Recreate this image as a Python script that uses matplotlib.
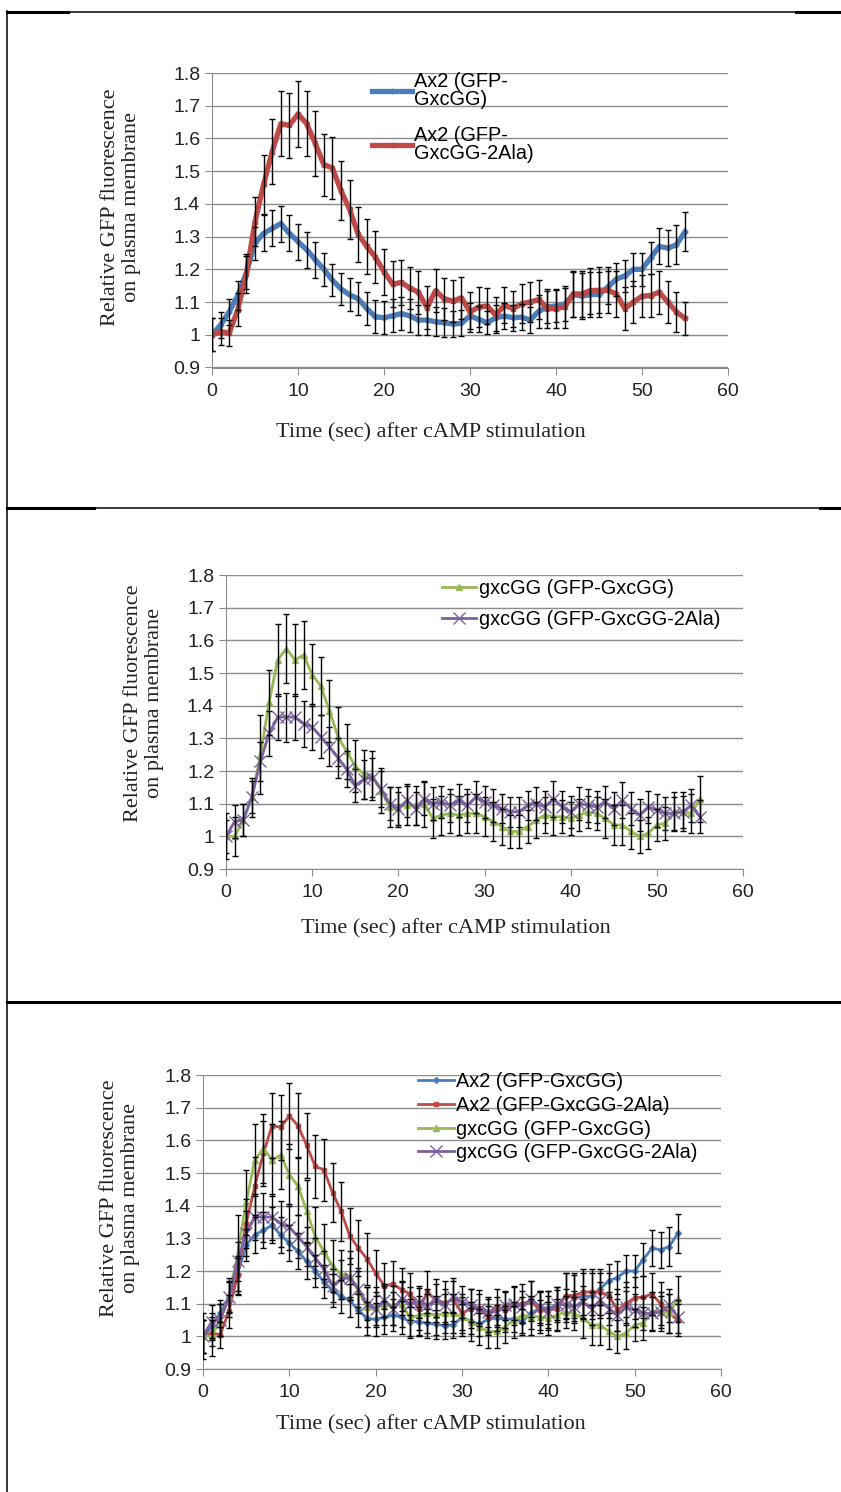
import matplotlib
matplotlib.use("Agg")
import matplotlib.pyplot as plt
from matplotlib.lines import Line2D
from matplotlib.ticker import FuncFormatter

# time points (sec after cAMP stimulation)
t = list(range(56))

# Ax2 (GFP-GxcGG)
ax2_gfp = [1.0, 1.03, 1.07, 1.12, 1.19, 1.28, 1.31, 1.325, 1.34, 1.31,
           1.285, 1.26, 1.23, 1.20, 1.167, 1.14, 1.122, 1.11, 1.08, 1.055,
           1.052, 1.058, 1.065, 1.058, 1.045, 1.045, 1.04, 1.037, 1.033, 1.035,
           1.058, 1.047, 1.037, 1.052, 1.057, 1.052, 1.054, 1.045, 1.072, 1.085,
           1.088, 1.093, 1.123, 1.118, 1.123, 1.123, 1.145, 1.17, 1.18, 1.20,
           1.20, 1.235, 1.27, 1.265, 1.275, 1.315]
ax2_gfp_err = [0.05, 0.04, 0.04, 0.045, 0.05, 0.05, 0.055, 0.055, 0.055, 0.055,
               0.055, 0.055, 0.055, 0.05, 0.05, 0.05, 0.05, 0.05, 0.05, 0.05,
               0.05, 0.05, 0.05, 0.05, 0.045, 0.045, 0.045, 0.045, 0.04, 0.04,
               0.04, 0.04, 0.035, 0.04, 0.04, 0.04, 0.04, 0.04, 0.05, 0.05,
               0.05, 0.05, 0.07, 0.07, 0.07, 0.07, 0.05, 0.05, 0.05, 0.05,
               0.05, 0.05, 0.055, 0.055, 0.06, 0.06]

# Ax2 (GFP-GxcGG-2Ala)
ax2_2ala = [1.0, 1.01, 1.005, 1.077, 1.187, 1.345, 1.46, 1.56, 1.645, 1.64,
            1.675, 1.645, 1.585, 1.52, 1.51, 1.44, 1.383, 1.307, 1.27, 1.237,
            1.193, 1.155, 1.16, 1.143, 1.13, 1.083, 1.135, 1.11, 1.103, 1.113,
            1.07, 1.085, 1.088, 1.06, 1.09, 1.08, 1.095, 1.10, 1.108, 1.08,
            1.08, 1.085, 1.125, 1.125, 1.135, 1.136, 1.136, 1.125, 1.08, 1.10,
            1.118, 1.12, 1.13, 1.10, 1.07, 1.05]
ax2_2ala_err = [0.05, 0.04, 0.04, 0.05, 0.06, 0.075, 0.09, 0.1, 0.1, 0.1,
                0.1, 0.1, 0.1, 0.095, 0.095, 0.09, 0.09, 0.085, 0.085, 0.08,
                0.07, 0.07, 0.07, 0.065, 0.065, 0.065, 0.065, 0.065, 0.065, 0.065,
                0.06, 0.06, 0.055, 0.055, 0.055, 0.055, 0.06, 0.06, 0.06, 0.06,
                0.06, 0.065, 0.07, 0.07, 0.07, 0.07, 0.07, 0.07, 0.065, 0.065,
                0.065, 0.065, 0.065, 0.065, 0.06, 0.05]

# gxcGG (GFP-GxcGG)
gxc_gfp = [1.0, 1.0, 1.05, 1.12, 1.25, 1.41, 1.54, 1.575, 1.54, 1.555,
           1.495, 1.46, 1.385, 1.305, 1.26, 1.215, 1.19, 1.185, 1.14, 1.09,
           1.09, 1.095, 1.095, 1.10, 1.055, 1.065, 1.07, 1.065, 1.07, 1.07,
           1.06, 1.045, 1.03, 1.015, 1.015, 1.03, 1.05, 1.065, 1.06, 1.06,
           1.055, 1.065, 1.075, 1.07, 1.055, 1.035, 1.035, 1.015, 1.0, 1.01,
           1.035, 1.04, 1.075, 1.075, 1.07, 1.115]
gxc_gfp_err = [0.07, 0.06, 0.05, 0.06, 0.12, 0.1, 0.11, 0.105, 0.11, 0.105,
               0.095, 0.09, 0.095, 0.09, 0.085, 0.08, 0.075, 0.075, 0.07, 0.06,
               0.06, 0.06, 0.06, 0.07, 0.06, 0.06, 0.06, 0.06, 0.06, 0.06,
               0.06, 0.06, 0.055, 0.05, 0.05, 0.05, 0.055, 0.055, 0.055, 0.05,
               0.05, 0.05, 0.05, 0.05, 0.06, 0.06, 0.06, 0.055, 0.05, 0.05,
               0.05, 0.05, 0.06, 0.06, 0.06, 0.07]

# gxcGG (GFP-GxcGG-2Ala)
gxc_2ala = [1.0, 1.045, 1.05, 1.12, 1.23, 1.315, 1.365, 1.365, 1.365, 1.345,
            1.335, 1.305, 1.275, 1.24, 1.205, 1.155, 1.175, 1.18, 1.145, 1.10,
            1.085, 1.11, 1.085, 1.115, 1.10, 1.105, 1.095, 1.11, 1.095, 1.12,
            1.105, 1.095, 1.085, 1.075, 1.075, 1.095, 1.10, 1.09, 1.115, 1.09,
            1.075, 1.10, 1.095, 1.09, 1.105, 1.085, 1.11, 1.085, 1.065, 1.09,
            1.08, 1.07, 1.07, 1.075, 1.095, 1.06]
gxc_2ala_err = [0.05, 0.05, 0.05, 0.05, 0.06, 0.07, 0.07, 0.075, 0.07, 0.07,
                0.07, 0.065, 0.06, 0.06, 0.055, 0.05, 0.06, 0.06, 0.055, 0.05,
                0.05, 0.05, 0.05, 0.05, 0.05, 0.05, 0.05, 0.05, 0.05, 0.05,
                0.05, 0.05, 0.045, 0.045, 0.045, 0.045, 0.05, 0.05, 0.055, 0.05,
                0.05, 0.05, 0.05, 0.05, 0.05, 0.05, 0.055, 0.05, 0.05, 0.05,
                0.05, 0.05, 0.05, 0.05, 0.05, 0.05]

labels = ["Ax2 (GFP-GxcGG)", "Ax2 (GFP-GxcGG-2Ala)",
          "gxcGG (GFP-GxcGG)", "gxcGG (GFP-GxcGG-2Ala)"]
colors = ["#4A7EBB", "#BE4B48", "#98B954", "#7D60A0"]
markers = ["D", "s", "^", "x"]

SANS = ["Liberation Sans", "DejaVu Sans"]
SERIF = ["Liberation Serif", "DejaVu Serif"]
YLABEL = "Relative GFP fluorescence\non plasma membrane"
XLABEL = "Time (sec) after cAMP stimulation"
TICK_FS = 14
LEG_FS = 14.3
LAB_FS = 16

W, H = 841, 1492
fig = plt.figure(figsize=(W / 100, H / 100), dpi=100)


def fx(px):
    return px / W


def fy(py):
    return 1 - py / H


def make_axes(left, right, top, bottom):
    ax = fig.add_axes([fx(left), fy(bottom), (right - left) / W, (bottom - top) / H])
    ax.set_xlim(0, 60)
    ax.set_ylim(0.9, 1.8)
    ax.set_xticks(range(0, 61, 10))
    ax.set_yticks([0.9 + 0.1 * i for i in range(10)])
    ax.yaxis.set_major_formatter(FuncFormatter(lambda v, p: "%g" % round(v, 1)))
    ax.grid(axis="y", color="#8c8c8c", lw=1.0)
    ax.set_axisbelow(True)
    for s in ["top", "right"]:
        ax.spines[s].set_visible(False)
    for s in ["left", "bottom"]:
        ax.spines[s].set_color("#8c8c8c")
    ax.tick_params(direction="out", length=5, color="#8c8c8c", labelsize=TICK_FS,
                   labelcolor="#222222")
    ax.tick_params(axis="x", pad=6)
    for lab in ax.get_xticklabels() + ax.get_yticklabels():
        lab.set_family(SANS)
    return ax


def draw(ax, y, err, idx, lw, ms, mew=1.0):
    ax.errorbar(t, y, yerr=err, fmt="none", ecolor="black", elinewidth=1.0,
                capsize=2.5, capthick=1.0, zorder=3)
    ax.plot(t, y, color=colors[idx], lw=lw, marker=markers[idx], ms=ms,
            mew=mew, label=labels[idx], zorder=2 + idx * 0.1)


# ---- panel 1: Ax2 strains
ax1 = make_axes(212, 728, 73, 367.5)
draw(ax1, ax2_gfp, ax2_gfp_err, 0, 3.8, 2.5)
draw(ax1, ax2_2ala, ax2_2ala_err, 1, 3.8, 2.5)
h, _ = ax1.get_legend_handles_labels()
leg1 = ax1.legend(h, ["Ax2 (GFP-\nGxcGG)", "Ax2 (GFP-\nGxcGG-2Ala)"], loc="upper left",
                  bbox_to_anchor=(0.31, 1.005), frameon=False, borderpad=0,
                  borderaxespad=0, handlelength=2.0, handletextpad=0.1,
                  labelspacing=0.85, prop={"family": SANS, "size": LEG_FS})
for txt in leg1.get_texts():
    txt.set_linespacing(0.95)

# ---- panel 2: gxcGG strains
ax2 = make_axes(226, 743, 575, 869)
draw(ax2, gxc_gfp, gxc_gfp_err, 2, 2.0, 4)
draw(ax2, gxc_2ala, gxc_2ala_err, 3, 2.0, 8, 1.0)
ax2.legend(loc="upper left", bbox_to_anchor=(0.418, 0.987), frameon=False,
           borderpad=0, borderaxespad=0, handlelength=1.7, handletextpad=0.15,
           labelspacing=0.62, prop={"family": SANS, "size": LEG_FS})

# ---- panel 3: all four
ax3 = make_axes(203, 721, 1075, 1369)
draw(ax3, ax2_gfp, ax2_gfp_err, 0, 2.0, 3)
draw(ax3, ax2_2ala, ax2_2ala_err, 1, 2.0, 3.5)
draw(ax3, gxc_gfp, gxc_gfp_err, 2, 2.0, 4)
draw(ax3, gxc_2ala, gxc_2ala_err, 3, 2.0, 8, 1.0)
ax3.legend(loc="upper left", bbox_to_anchor=(0.415, 1.01), frameon=False,
           borderpad=0, borderaxespad=0, handlelength=1.8, handletextpad=0.1,
           labelspacing=0.24, prop={"family": SANS, "size": LEG_FS})

# axis titles
for (xl, yl), (xx, xy) in [((121, 207), (431, 433)),
                           ((144, 703), (456, 929)),
                           ((120, 1198), (431, 1425))]:
    fig.text(fx(xl), fy(yl), YLABEL, rotation=90, ha="center", va="center",
             multialignment="center", family=SERIF, fontsize=LAB_FS, color="#222222")
    fig.text(fx(xx), fy(xy), XLABEL, ha="center", va="center",
             family=SERIF, fontsize=LAB_FS, color="#222222")


# table borders
def hline(y, x0, x1, lw):
    fig.add_artist(Line2D([fx(x0), fx(x1)], [fy(y), fy(y)], color="black", lw=lw))


hline(11.5, 7, 841, 1.1)
hline(11.5, 7, 68, 2.2)
hline(11.5, 796, 841, 2.2)
hline(508, 7, 841, 1.1)
hline(508, 7, 94, 2.2)
hline(508, 820, 841, 2.2)
hline(1002, 7, 841, 2.2)
fig.add_artist(Line2D([fx(7), fx(7)], [fy(11), fy(1492)], color="black", lw=1.1))

fig.savefig("out.png", dpi=100)
